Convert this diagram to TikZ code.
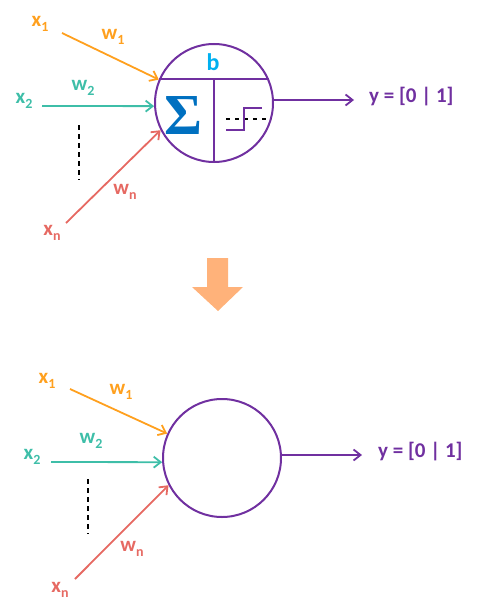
\documentclass[tikz,border=0pt]{standalone}
\usepackage{fontspec}
\setmainfont{Carlito}
\newfontfamily\sigfont{Liberation Serif}
\usetikzlibrary{arrows.meta}
\definecolor{cOr}{RGB}{255,160,30}
\definecolor{cTe}{RGB}{62,190,168}
\definecolor{cRe}{RGB}{230,105,98}
\definecolor{cPu}{RGB}{112,48,160}
\definecolor{cBl}{RGB}{0,112,192}
\definecolor{cCy}{RGB}{0,176,240}
\definecolor{cAr}{RGB}{255,178,122}
\newcommand\subs[1]{\raisebox{-0.45ex}{\fontsize{14}{14}\selectfont #1}}
\tikzset{
  lbl/.style={font=\fontsize{21}{21}\selectfont\bfseries, inner sep=0pt},
  neuron/.style={circle, draw=cPu, line width=2pt, minimum size=118pt, inner sep=0pt},
  inarrow/.style={line width=1.8pt, -{Straight Barb[length=7pt,width=11pt,line width=1.8pt]}},
  dots/.style={black, line width=2pt, dash pattern=on 5pt off 4pt},
}
\begin{document}
\begin{tikzpicture}[x=1pt,y=-1pt]
\useasboundingbox (0,0) rectangle (479,615);
% ===== top neuron =====
\node[neuron] (c1) at (214,103) {};
\draw[cPu, line width=2pt] (c1.156) -- (c1.24);
\coordinate (m1) at (214,79);
\draw[cPu, line width=2pt] (m1) -- (c1.south);
\node[lbl, text=cCy, font=\fontsize{24}{24}\selectfont\bfseries] (b) at (213,62) {b};
\node[text=cBl, inner sep=0pt, font=\fontsize{58}{58}\selectfont\sigfont\bfseries] (sig) at (183,116) {Σ};
\draw[dots, dash pattern=on 4pt off 5pt, line width=1.8pt] (226,119) -- (271,119);
\draw[cPu, line width=2pt] (226,130) -- (244,130) -- (244,108) -- (262,108);
% inputs
\node[lbl, text=cOr] (x1) at (40,24) {x\subs{1}};
\node[lbl, text=cOr] (w1) at (113,37) {w\subs{1}};
\node[lbl, text=cTe] (x2) at (24,101) {x\subs{2}};
\node[lbl, text=cTe] (w2) at (83,88) {w\subs{2}};
\node[lbl, text=cRe] (xn) at (52,233) {x\subs{n}};
\node[lbl, text=cRe] (wn) at (125,192) {w\subs{n}};
\coordinate (s1) at (62,33);
\coordinate (s2) at (42,106);
\coordinate (sn) at (66,223);
\draw[inarrow, cOr] (s1) -- (c1.157);
\draw[inarrow, cTe] (s2) -- (c1.183);
\draw[inarrow, cRe] (sn) -- (c1.207);
\coordinate (d1a) at (79,125);
\coordinate (d1b) at (79,180);
\draw[dots] (d1a) -- (d1b);
% output
\coordinate (o1) at (354,100);
\draw[inarrow, cPu] (c1.east |- o1) -- (o1);
\node[lbl, text=cPu, anchor=west] (y1) at (369,97) {y = [0 | 1]};
% ===== big arrow =====
\fill[cAr] (207,258) -- (228,258) -- (228,287) -- (243,287) -- (218,311) -- (192,287) -- (207,287) -- cycle;
% ===== bottom neuron =====
\node[neuron] (c2) at (222,458) {};
\node[lbl, text=cOr] (x1b) at (47,381) {x\subs{1}};
\node[lbl, text=cOr] (w1b) at (121,392) {w\subs{1}};
\node[lbl, text=cTe] (x2b) at (32,457) {x\subs{2}};
\node[lbl, text=cTe] (w2b) at (91,441) {w\subs{2}};
\node[lbl, text=cRe] (xnb) at (60,590) {x\subs{n}};
\node[lbl, text=cRe] (wnb) at (132,549) {w\subs{n}};
\coordinate (t1) at (70,389);
\coordinate (t2) at (51,462);
\coordinate (tn) at (75,579);
\draw[inarrow, cOr] (t1) -- (c2.156);
\draw[inarrow, cTe] (t2) -- (c2.184);
\draw[inarrow, cRe] (tn) -- (c2.207);
\coordinate (d2a) at (88,479);
\coordinate (d2b) at (88,534);
\draw[dots] (d2a) -- (d2b);
\coordinate (o2) at (362,455);
\draw[inarrow, cPu] (c2.east |- o2) -- (o2);
\node[lbl, text=cPu, anchor=west] (y2) at (378,452) {y = [0 | 1]};
\end{tikzpicture}
\end{document}
